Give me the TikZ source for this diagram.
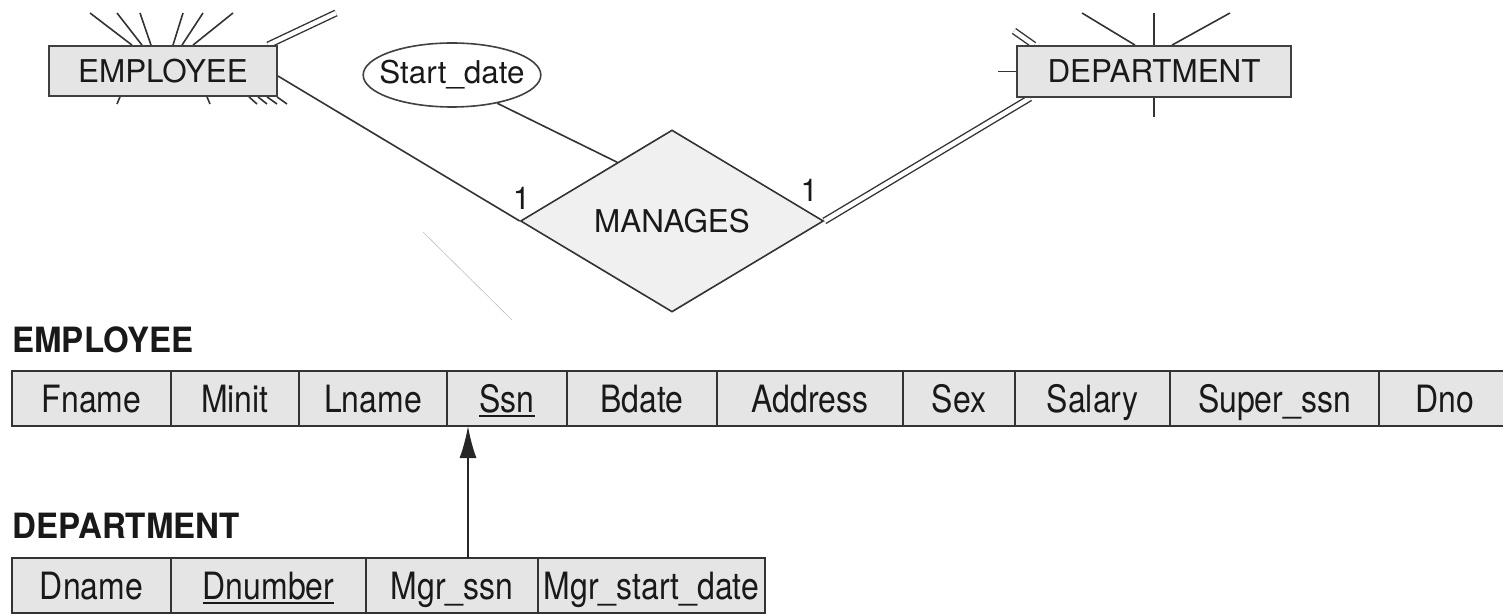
\documentclass[tikz,border=0pt]{standalone}
\usepackage{fontspec}
\usetikzlibrary{shapes.geometric,positioning,calc,arrows.meta,backgrounds}

\newfontfamily\erfont{TeX Gyre Heros}
\newfontfamily\cellfont[FakeStretch=0.85]{TeX Gyre Heros}
\newfontfamily\headfont[FakeStretch=0.95]{TeX Gyre Heros}

% key attribute: underlined
\newcommand{\pkey}[1]{\setbox0\hbox{#1}\rlap{\rule[-2.6pt]{\wd0}{0.9pt}}\box0}

\tikzset{
  erfont/.style={font=\erfont\fontsize{15.7pt}{18pt}\selectfont, text=black!90},
  entity/.style={erfont, draw=black!75, fill=gray!20, line width=0.9pt, inner sep=0pt},
  attrib/.style={erfont, ellipse, draw=black!75, fill=white, line width=0.8pt, inner xsep=-4.9pt, inner ysep=0pt,
    minimum width=88pt, minimum height=32pt},
  relship/.style={erfont, diamond, draw=black!80, fill=gray!12, line width=0.8pt, inner sep=0pt,
    minimum width=151.5pt, minimum height=91pt},
  card/.style={erfont, inner sep=0pt},
  link/.style={draw=black!80, line width=0.8pt},
  total/.style={draw=black!80, line width=0.7pt, double=white, double distance=2.2pt},
  cell/.style={draw=black!80, fill=gray!20, line width=1pt, minimum width=#1, minimum height=27.5pt,
    inner sep=0pt, outer sep=0pt, text height=13.5pt, text depth=0pt, text=black!90,
    font=\cellfont\fontsize{18.8pt}{22pt}\selectfont},
  head/.style={inner sep=0pt, text=black!90, font=\headfont\bfseries\fontsize{17.4pt}{20pt}\selectfont},
  fkey/.style={draw=black!85, line width=1pt, -{Latex[length=16pt, width=8.5pt]}}
}

\begin{document}
\begin{tikzpicture}[x=0.5pt, y=-0.5pt]
  \path[use as bounding box, clip] (0,0) rectangle (1503,614);

  % ER part
  \node[entity, minimum width=114pt, minimum height=25pt] (emp) at (163,71) {EMPLOYEE};
  \node[entity, minimum width=137pt, minimum height=25.5pt] (dept) at (1154,71.5) {DEPARTMENT};
  \node[attrib] (sdate) at (452,75) {Start\_date};
  \node[relship] (mng) at (672,221) {MANAGES};
  \node[card] (cardl) at ([xshift=1pt, yshift=11.5pt]mng.west) {1};
  \node[card] (cardr) at ([xshift=-7.5pt, yshift=15.5pt]mng.east) {1};

  \begin{scope}[on background layer]
    \draw[link] ([yshift=-2.5pt]emp.east) -- (mng.west);
    \draw[link] (sdate.-32) -- ($(mng.west)!0.64!(mng.north)$);
    \draw[total] (mng.east) -- ([xshift=7pt]dept.south west);

    % lines to the rest of the diagram (cut off)
    \foreach \a/\b in {90/132, 117/142, 140/151, 183/173, 203/182, 233/193}
      \draw[link] (\a,13) -- (\b,0 |- emp.north);
    \foreach \a/\b in {120/117, 207/210, 249/257, 258/267, 267/277, 277/287}
      \draw[link] (\a,0 |- emp.south) -- (\b,104);
    \draw[total] ([xshift=52.5pt]emp.north) -- (336,13);

    \draw[link] (dept.north) -- (dept.north |- 0,13);
    \draw[link] (dept.south) -- (dept.south |- 0,117);
    \draw[link] (dept.west) -- +(-9pt,0);
    \draw[link] (1082,13) -- (1135,0 |- dept.north);
    \draw[link] (1172,0 |- dept.north) -- (1230,13);
    \draw[total] (1014,31) -- (1034,0 |- dept.north);

    \draw[black!25, line width=0.3pt] (423,232) -- (512,320);
  \end{scope}

  % EMPLOYEE relation
  \node[head, anchor=base west] (emptitle) at (12,352) {EMPLOYEE};
  \node[cell=79.5pt, anchor=west] (fname) at (12,398.5) {Fname};
  \node[cell=64pt, right=0pt of fname] (minit) {Minit};
  \node[cell=74pt, right=0pt of minit] (lname) {Lname};
  \node[cell=60pt, right=0pt of lname] (ssn) {\pkey{Ssn}};
  \node[cell=75pt, right=0pt of ssn] (bdate) {Bdate};
  \node[cell=93pt, right=0pt of bdate] (address) {Address};
  \node[cell=56pt, right=0pt of address] (sex) {Sex};
  \node[cell=77.5pt, right=0pt of sex] (salary) {Salary};
  \node[cell=104.5pt, right=0pt of salary] (superssn) {Super\_ssn};
  \node[cell=66pt, right=0pt of superssn] (dno) {Dno};

  % DEPARTMENT relation
  \node[head, anchor=base west] (depttitle) at (12,538) {DEPARTMENT};
  \node[cell=79.5pt, anchor=west] (dname) at (12,585.5) {Dname};
  \node[cell=97.5pt, right=0pt of dname] (dnumber) {\pkey{Dnumber}};
  \node[cell=86pt, right=0pt of dnumber] (mgrssn) {Mgr\_ssn};
  \node[cell=113.5pt, right=0pt of mgrssn] (mgrstart) {Mgr\_start\_date};

  % foreign key
  \coordinate (fkfoot) at ([xshift=8pt]mgrssn.north);
  \draw[fkey] (fkfoot) -- (fkfoot |- ssn.south);
\end{tikzpicture}
\end{document}
